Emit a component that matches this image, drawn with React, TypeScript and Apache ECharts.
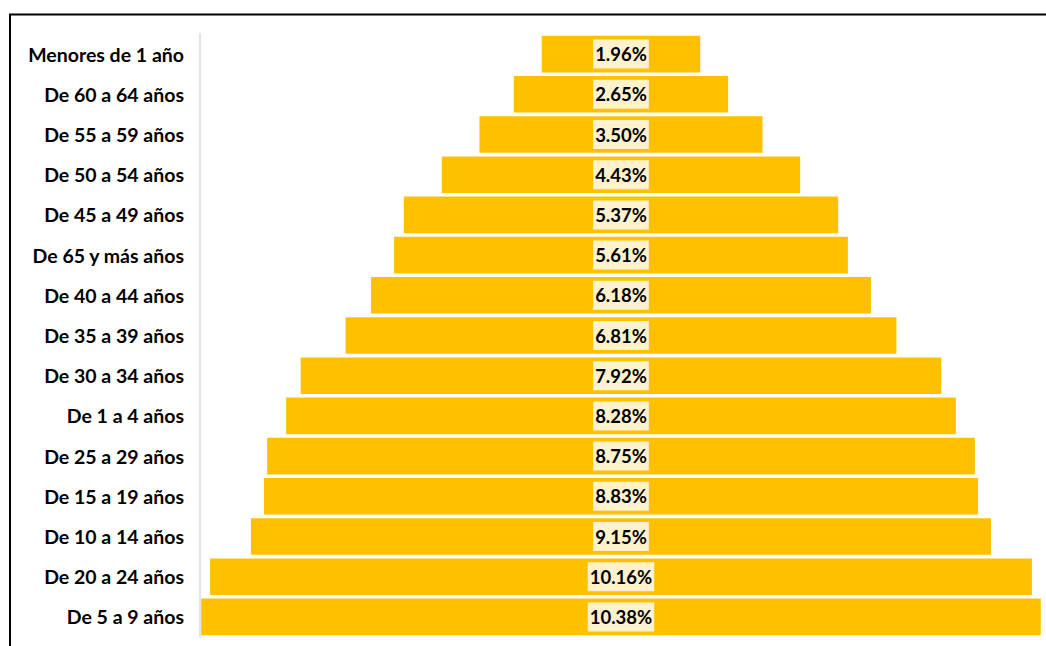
import React, { useEffect, useRef } from "react";
import * as echarts from "echarts";

const categories = [
  "Menores de 1 año",
  "De 60 a 64 años",
  "De 55 a 59 años",
  "De 50 a 54 años",
  "De 45 a 49 años",
  "De 65 y más años",
  "De 40 a 44 años",
  "De 35 a 39 años",
  "De 30 a 34 años",
  "De 1 a 4 años",
  "De 25 a 29 años",
  "De 15 a 19 años",
  "De 10 a 14 años",
  "De 20 a 24 años",
  "De 5 a 9 años",
];
const values = [1.96, 2.65, 3.5, 4.43, 5.37, 5.61, 6.18, 6.81, 7.92, 8.28, 8.75, 8.83, 9.15, 10.16, 10.38];
const axisMax = 10.41;

export default function App() {
  const ref = useRef<HTMLDivElement>(null);
  useEffect(() => {
    if (!ref.current) return;
    const chart = echarts.init(ref.current, null, { renderer: "svg" });
    const font = "Lato";
    const offsets = values.map((v) => (axisMax - v) / 2);
    chart.setOption({
      animation: false,
      backgroundColor: "#fff",
      grid: { left: 200, right: 4, top: 34, bottom: 9, containLabel: false },
      xAxis: {
        type: "value",
        min: 0,
        max: axisMax,
        show: false,
      },
      yAxis: {
        type: "category",
        data: categories,
        inverse: true,
        axisLine: { show: true, lineStyle: { color: "#D9D9D9", width: 1.5 } },
        axisTick: { show: false },
        axisLabel: {
          margin: 16,
          color: "#000",
          fontWeight: "bold",
          fontSize: 19.5,
          fontFamily: font,
        },
      },
      series: [
        {
          type: "bar",
          stack: "s",
          data: offsets,
          itemStyle: { color: "transparent" },
          silent: true,
          barCategoryGap: "9%",
        },
        {
          type: "bar",
          stack: "s",
          data: values,
          itemStyle: { color: "#FFC000" },
          barCategoryGap: "9%",
          label: {
            show: true,
            position: "inside",
            formatter: (p: any) => p.value.toFixed(2) + "%",
            color: "#000",
            fontWeight: "bold",
            fontSize: 18.5,
            fontFamily: font,
            backgroundColor: "#FFF2CC",
            padding: [5, 2, 5, 2],
          },
        },
      ],
      graphic: [
        {
          type: "rect",
          shape: { x: 10, y: 14.5, width: 1200, height: 800 },
          style: { fill: "none", stroke: "#000", lineWidth: 2 },
          silent: true,
          z: 100,
        },
      ],
    });
    return () => chart.dispose();
  }, []);
  return (
    <div
      ref={ref}
      style={{ position: "fixed", left: 0, top: 0, width: 1046, height: 646 }}
    />
  );
}
